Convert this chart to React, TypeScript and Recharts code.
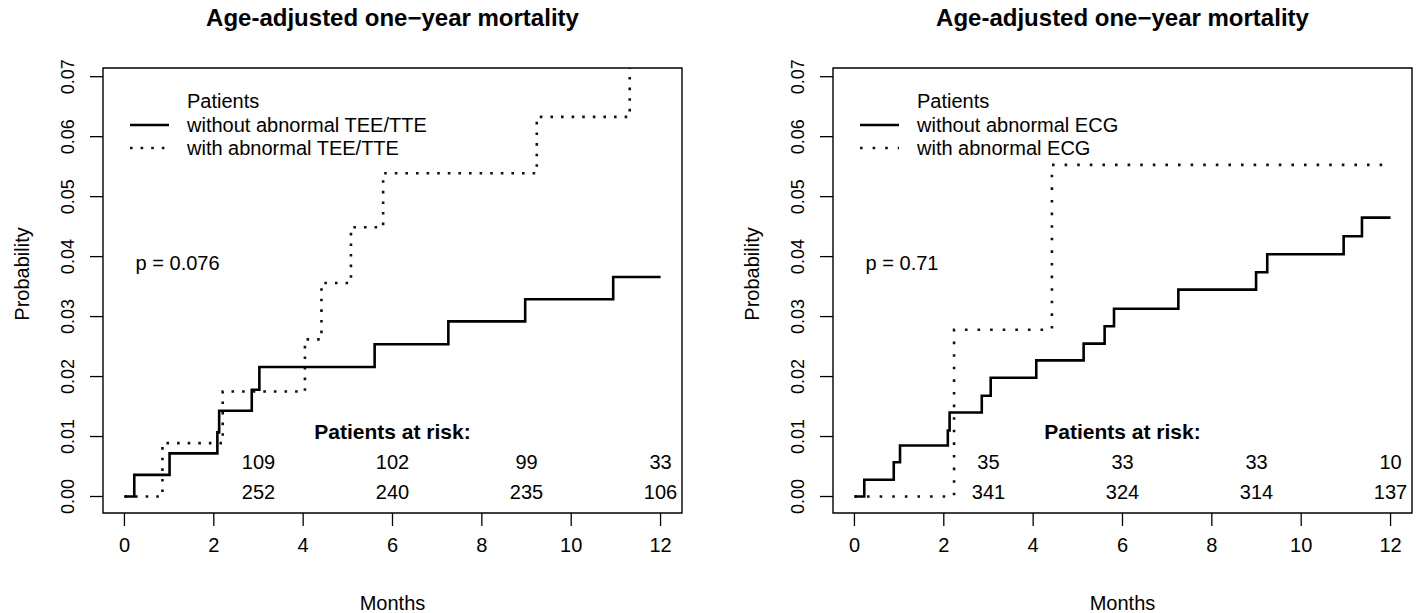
import React from "react"
import {
  LineChart,
  Line,
  XAxis,
  YAxis,
  ReferenceArea,
  ReferenceDot,
} from "recharts"

const FONT = "'Liberation Sans', Arial, Helvetica, sans-serif"

// axes
const monthTicks = [0, 2, 4, 6, 8, 10, 12]
const probTicks = [0, 0.01, 0.02, 0.03, 0.04, 0.05, 0.06, 0.07]
const probTickLabels = ["0.00", "0.01", "0.02", "0.03", "0.04", "0.05", "0.06", "0.07"]
const riskMonths = [3, 6, 9, 12]

// R-style limits with 4% padding
const xDomain = [-0.48, 12.48]
const yDomain = [-0.00275, 0.07145]

// left panel: TEE/TTE
const teeMonthsWithout = [0, 0.22, 1.01, 2.08, 2.12, 2.85, 3.02, 5.6, 7.25, 8.97, 10.94, 12]
const teeProbWithout = [0, 0.0036, 0.0072, 0.0107, 0.0143, 0.0178, 0.0216, 0.0254, 0.0292, 0.0329, 0.0366, 0.0366]
const teeMonthsWith = [0, 0.85, 2.2, 4.04, 4.41, 5.07, 5.79, 9.23, 11.31, 12]
const teeProbWith = [0, 0.0089, 0.0175, 0.0262, 0.0356, 0.0449, 0.0539, 0.0633, 0.0735, 0.0735]
const teeRiskWith = [109, 102, 99, 33]
const teeRiskWithout = [252, 240, 235, 106]

// right panel: ECG
const ecgMonthsWithout = [0, 0.22, 0.88, 1.02, 2.09, 2.13, 2.85, 3.05, 4.07, 5.13, 5.6, 5.81, 7.25, 8.99, 9.24, 10.95, 11.36, 12]
const ecgProbWithout = [0, 0.0028, 0.0057, 0.0085, 0.011, 0.014, 0.0168, 0.0198, 0.0227, 0.0255, 0.0284, 0.0313, 0.0345, 0.0374, 0.0404, 0.0434, 0.0465, 0.0465]
const ecgMonthsWith = [0, 2.23, 4.42, 12]
const ecgProbWith = [0, 0.0278, 0.0553, 0.0553]
const ecgRiskWith = [35, 33, 33, 10]
const ecgRiskWithout = [341, 324, 314, 137]

const zip = (ms: number[], ps: number[]) => ms.map((m, i) => ({ m, p: ps[i] }))

const XTick = (props: any) => {
  const { x, y, payload } = props
  return (
    <text x={x} y={y + 26} textAnchor="middle" fontSize={20} fill="#000" fontFamily={FONT}>
      {payload.value}
    </text>
  )
}

const YTick = (props: any) => {
  const { x, y, payload } = props
  const i = probTicks.indexOf(payload.value)
  return (
    <text
      transform={`translate(${x - 16},${y}) rotate(-90)`}
      textAnchor="middle"
      fontSize={18}
      fill="#000"
      fontFamily={FONT}
    >
      {probTickLabels[i]}
    </text>
  )
}

interface PanelProps {
  left: number
  withoutLabel: string
  withLabel: string
  withoutData: { m: number; p: number }[]
  withData: { m: number; p: number }[]
  pText: string
  riskWith: number[]
  riskWithout: number[]
  dash: string
}

function Panel({ left, withoutLabel, withLabel, withoutData, withData, pText, riskWith, riskWithout, dash }: PanelProps) {
  const txt = { fontSize: 20, fill: "#000", fontFamily: FONT }
  return (
    <div style={{ position: "absolute", left, top: 0, width: 687, height: 613 }}>
      <div
        style={{
          position: "absolute", left: 103, width: 579, top: 4, textAlign: "center",
          fontFamily: FONT, fontWeight: "bold", fontSize: 24, lineHeight: "28px",
        }}
      >
        Age-adjusted one−year mortality
      </div>
      <div
        style={{
          position: "absolute", left: 103, width: 579, top: 591, textAlign: "center",
          fontFamily: FONT, fontSize: 20, lineHeight: "24px",
        }}
      >
        Months
      </div>
      <div
        style={{
          position: "absolute", left: 22, top: 274, transform: "translate(-50%,-50%) rotate(-90deg)",
          fontFamily: FONT, fontSize: 20, lineHeight: "24px", whiteSpace: "nowrap",
        }}
      >
        Probability
      </div>
      <LineChart width={687} height={613} margin={{ top: 68, right: 5, bottom: 50, left: 0 }}>
        <XAxis
          type="number"
          dataKey="m"
          domain={xDomain}
          ticks={monthTicks}
          interval={0}
          allowDataOverflow
          axisLine={false}
          tickSize={13}
          tickMargin={0}
          tickLine={{ stroke: "#000", strokeWidth: 1.3 }}
          tick={<XTick />}
          height={50}
        />
        <YAxis
          type="number"
          domain={yDomain}
          ticks={probTicks}
          interval={0}
          allowDataOverflow
          axisLine={false}
          tickSize={13}
          tickMargin={0}
          tickLine={{ stroke: "#000", strokeWidth: 1.3 }}
          tick={<YTick />}
          width={103}
        />
        <ReferenceArea
          x1={xDomain[0]} x2={xDomain[1]} y1={yDomain[0]} y2={yDomain[1]}
          fill="none" fillOpacity={0} stroke="#000" strokeWidth={1.4} ifOverflow="visible"
        />
        <Line
          data={withData} dataKey="p" type="stepAfter" stroke="#111" strokeWidth={2.6}
          strokeDasharray={dash} dot={false} isAnimationActive={false}
        />
        <Line
          data={withoutData} dataKey="p" type="stepAfter" stroke="#000" strokeWidth={2.6}
          dot={false} isAnimationActive={false}
        />
        <ReferenceDot
          x={0.25} y={0.039} r={0} stroke="none" ifOverflow="visible"
          label={{ value: pText, position: "right", offset: 0, ...txt }}
        />
        <ReferenceDot
          x={6} y={0.0108} r={0} stroke="none" ifOverflow="visible"
          label={{ value: "Patients at risk:", position: "center", ...txt, fontSize: 21, fontWeight: "bold" }}
        />
        {riskMonths.map((m, i) => (
          <ReferenceDot
            key={"a" + m} x={m} y={0.0057} r={0} stroke="none" ifOverflow="visible"
            label={{ value: String(riskWith[i]), position: "center", ...txt }}
          />
        ))}
        {riskMonths.map((m, i) => (
          <ReferenceDot
            key={"b" + m} x={m} y={0.0007} r={0} stroke="none" ifOverflow="visible"
            label={{ value: String(riskWithout[i]), position: "center", ...txt }}
          />
        ))}
      </LineChart>
      {/* legend */}
      <svg style={{ position: "absolute", left: 0, top: 0 }} width={687} height={200}>
        <g fontFamily={FONT} fontSize={20} fill="#000">
          <text x={187} y={108}>Patients</text>
          <text x={187} y={132}>{withoutLabel}</text>
          <text x={187} y={155}>{withLabel}</text>
        </g>
        <line x1={130} x2={169} y1={125} y2={125} stroke="#000" strokeWidth={2.6} />
        <line x1={130} x2={169} y1={148} y2={148} stroke="#111" strokeWidth={2.6} strokeDasharray={dash} />
      </svg>
    </div>
  )
}

export default function App() {
  return (
    <div style={{ position: "absolute", left: 0, top: 0, width: 1417, height: 613, background: "#fff", overflow: "hidden" }}>
      <Panel
        left={0}
        withoutLabel="without abnormal TEE/TTE"
        withLabel="with abnormal TEE/TTE"
        withoutData={zip(teeMonthsWithout, teeProbWithout)}
        withData={zip(teeMonthsWith, teeProbWith)}
        pText="p = 0.076"
        riskWith={teeRiskWith}
        riskWithout={teeRiskWithout}
        dash="2.6 8"
      />
      <Panel
        left={730}
        withoutLabel="without abnormal ECG"
        withLabel="with abnormal ECG"
        withoutData={zip(ecgMonthsWithout, ecgProbWithout)}
        withData={zip(ecgMonthsWith, ecgProbWith)}
        pText="p = 0.71"
        riskWith={ecgRiskWith}
        riskWithout={ecgRiskWithout}
        dash="2.6 10"
      />
    </div>
  )
}
